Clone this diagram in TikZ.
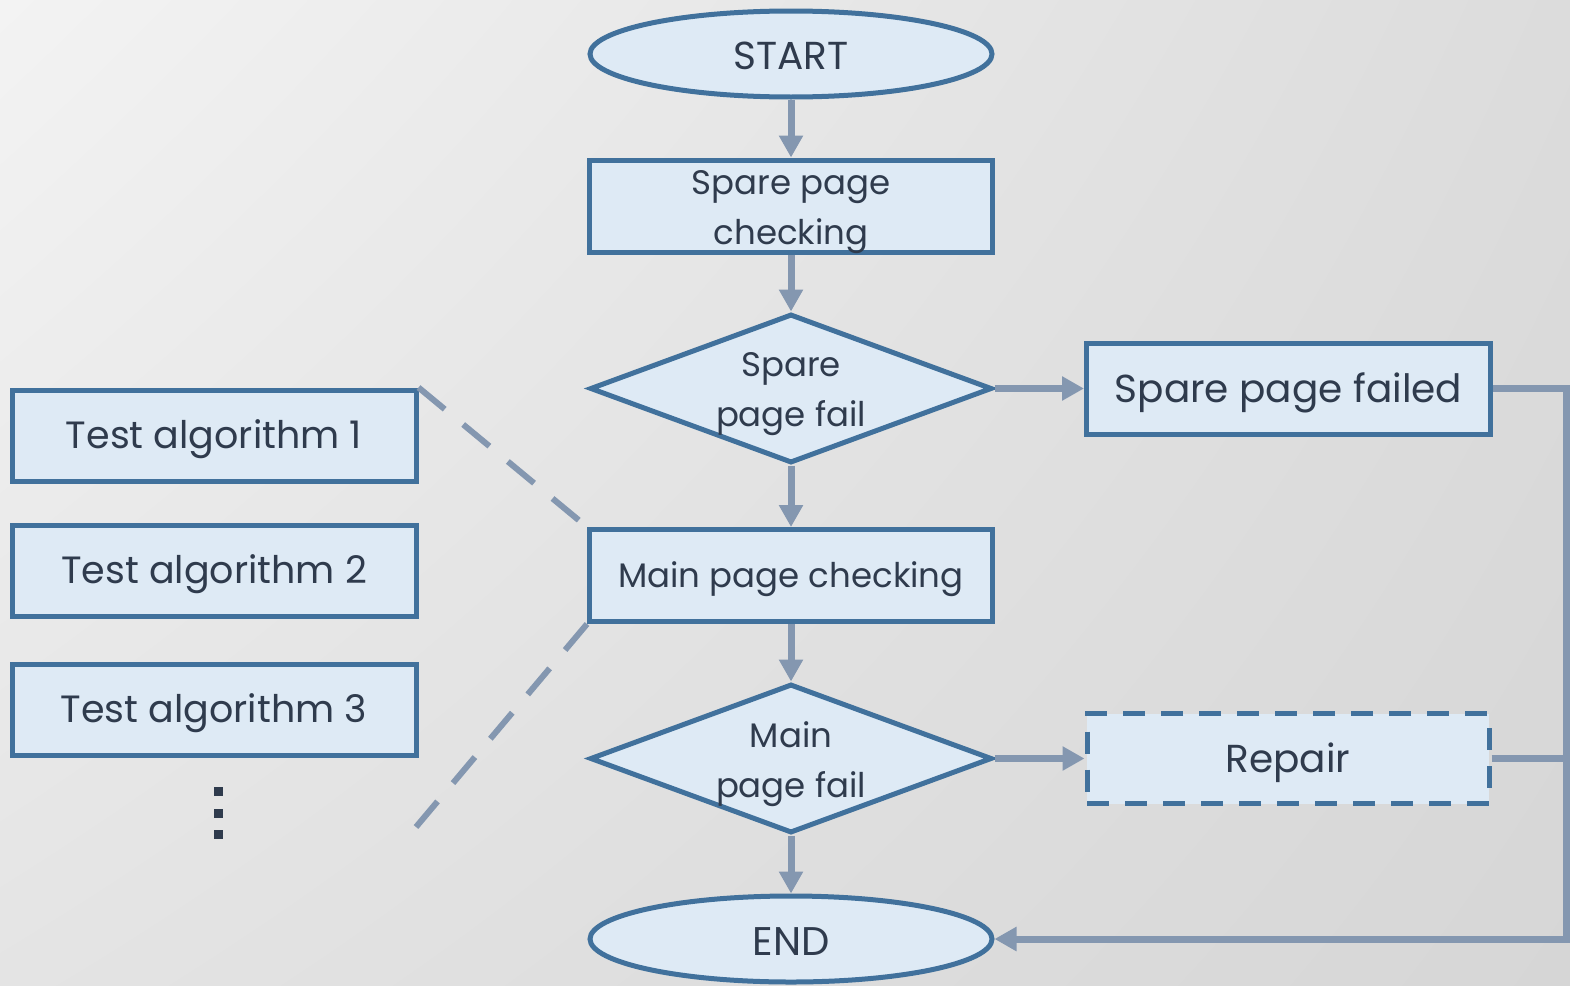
\documentclass[tikz,border=0pt]{standalone}
\usepackage{fontspec}
\setmainfont{Poppins}
\usetikzlibrary{shapes.geometric,arrows.meta,shadings}
\definecolor{bordercol}{RGB}{65,113,156}
\definecolor{fillcol}{RGB}{222,234,245}
\definecolor{linkcol}{RGB}{132,151,176}
\definecolor{txtcol}{RGB}{47,59,77}
\definecolor{bgA}{RGB}{243,243,243}
\definecolor{bgB}{RGB}{220,220,220}
\definecolor{bgC}{RGB}{228,228,228}
\definecolor{bgD}{RGB}{214,214,214}
\tikzset{
  shapebase/.style={draw=bordercol, fill=fillcol, line width=5pt, inner sep=0pt,
    text=txtcol},
  flowbox/.style={shapebase, rectangle, minimum width=403pt, minimum height=92pt,
    font=\fontsize{34}{50}\selectfont},
  algbox/.style={shapebase, rectangle, minimum width=404pt, minimum height=91pt,
    font=\fontsize{38}{40}\selectfont},
  termbox/.style={shapebase, ellipse, minimum width=402pt, minimum height=86pt,
    font=\fontsize{39}{40}\selectfont},
  decision/.style={shapebase, diamond, minimum width=402pt, minimum height=149pt},
  txt/.style={text=txtcol, align=center, font=\fontsize{34}{50}\selectfont},
  lower/.style={label={[txt, yshift=-4pt]center:{#1}}},
  link/.style={draw=linkcol, line width=7pt},
  arrowlink/.style={link, -{Triangle[width=23pt,length=22pt]}},
  hint/.style={draw=linkcol, line width=6pt, dash pattern=on 34pt off 24pt},
  dot/.style={fill=txtcol, minimum size=9pt, inner sep=0pt, rectangle},
  sink/.style={yshift=-4pt},
}
\begin{document}
\begin{tikzpicture}[x=1pt, y=-1pt]
  % backdrop with a soft diagonal grey gradient
  \shade[upper left=bgA, upper right=bgB, lower left=bgC, lower right=bgD]
    (0,0) rectangle (1570,985);
  \useasboundingbox (0,0) rectangle (1570,985);

  % main flow
  \node[termbox, text depth=0pt, text height=27pt, label={[font=\fontsize{39}{40}\selectfont, text=txtcol, yshift=-2pt]center:START}] (start) at (791,54) {};
  \node[flowbox, label={[txt, yshift=-6pt]center:{Spare page\\checking}}] (spare) at (791,206) {};
  \node[decision, label={[txt, yshift=-6pt]center:{Spare\\page fail}}] (sfail) at (791,388.5) {};
  \node[flowbox, label={[txt, yshift=-4pt]center:Main page checking}] (main) at (791,575.5) {};
  \node[decision, label={[txt, yshift=-6pt]center:{Main\\page fail}}] (mfail) at (791,758.5) {};
  \node[termbox, label={[font=\fontsize{40}{40}\selectfont, text=txtcol, yshift=-3pt]center:END}] (end) at (791,939) {};

  % side outcomes
  \node[algbox, label={[font=\fontsize{39}{40}\selectfont, text=txtcol, yshift=-4pt]center:Spare page failed}] (sfailed) at (1288.5,388.5) {};
  \node[algbox, dashed, dash pattern=on 22pt off 16pt, minimum width=402pt, minimum height=90pt,
    label={[font=\fontsize{39}{40}\selectfont, text=txtcol, yshift=-4pt]center:Repair}] (repair) at (1288,758.5) {};

  % available test algorithms
  \node[algbox, label={[font=\fontsize{38}{40}\selectfont, text=txtcol, yshift=-4pt]center:Test algorithm 1}] (alg1) at (214,435.5) {};
  \node[algbox, label={[font=\fontsize{38}{40}\selectfont, text=txtcol, yshift=-4pt]center:Test algorithm 2}] (alg2) at (214,570.5) {};
  \node[algbox, label={[font=\fontsize{38}{40}\selectfont, text=txtcol, yshift=-4pt]center:Test algorithm 3}] (alg3) at (214,709.5) {};
  \node[dot] (d1) at (218,791.5) {};
  \node[dot] (d2) at (218,813) {};
  \node[dot] (d3) at (218,834) {};

  % connectors
  \draw[arrowlink] (start.south) -- (spare.north);
  \draw[arrowlink] (spare.south) -- (sfail.north);
  \draw[arrowlink] (sfail.south) -- (main.north);
  \draw[arrowlink] (main.south) -- (mfail.north);
  \draw[arrowlink] (mfail.south) -- (end.north);
  \draw[arrowlink] (sfail.east) -- (sfailed.west);
  \draw[arrowlink] (mfail.east) -- (repair.west);
  \coordinate (rail) at (1566,0);
  \draw[arrowlink] (sfailed.east) -- (sfailed.east -| rail) -- (end.east -| rail) -- (end.east);
  \draw[link] (repair.east) -- (repair.east -| rail);

  % detail call-out of the main check
  \coordinate (calloutend) at (416,827);
  \draw[hint] (alg1.north east) -- (main.north west);
  \draw[hint] (main.south west) -- (calloutend);
\end{tikzpicture}
\end{document}
